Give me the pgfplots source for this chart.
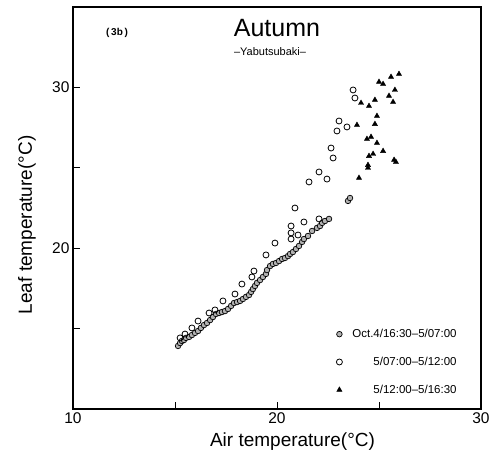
\documentclass[border=0pt]{standalone}
\usepackage{fontspec}
\setmainfont{Liberation Sans}
\usepackage{pgfplots}
\pgfplotsset{compat=1.18}

\begin{document}
\begin{tikzpicture}
\begin{axis}[
    scale only axis,
    width=408pt, height=402pt,
    xmin=10, xmax=30, ymin=10, ymax=35,
    xtick={10,20,30}, minor xtick={15,25},
    ytick={20,30}, minor ytick={15,25},
    tick align=inside, xtick pos=bottom, ytick pos=left,
    major tick length=7pt, minor tick length=7pt,
    every tick/.style={black, line width=0.9pt},
    axis line style={line width=1.1pt},
    /pgf/number format/assume math mode=true,
    tick label style={font=\fontsize{15.5}{17}\selectfont},
    xlabel={Air temperature(°C)},
    ylabel={Leaf temperature(°C)},
    every axis x label/.style={at={(rel axis cs:0.538,0)}, anchor=center, yshift=-33pt,
        font=\fontsize{19}{22}\selectfont},
    every axis y label/.style={at={(rel axis cs:0,0.458)}, rotate=90, anchor=center, yshift=46pt,
        font=\fontsize{19}{22}\selectfont},
    legend cell align=right,
    legend style={draw=none, fill=none, at={(rel axis cs:0.953,0.025)}, anchor=south east,
        font=\fontsize{11.5}{13}\selectfont, row sep=14pt,
        /tikz/every odd column/.append style={column sep=8pt}},
]
% Oct.4 16:30 - 5 07:00
\addplot[only marks, mark=*, mark size=2.8pt, mark options={fill=gray!60, draw=black, line width=0.7pt}] coordinates {
(15.15,13.92) (15.25,14.10) (15.34,14.23) (15.44,14.29) (15.54,14.42) (15.69,14.48)
(15.83,14.60) (15.98,14.73) (16.13,14.85) (16.27,15.04) (16.42,15.22) (16.57,15.35)
(16.72,15.53) (16.86,15.72) (17.01,15.91) (17.16,15.97) (17.30,16.03) (17.45,16.09)
(17.60,16.22) (17.75,16.41) (17.89,16.59) (18.04,16.65) (18.19,16.72) (18.33,16.84)
(18.48,16.97) (18.63,17.09) (18.73,17.28) (18.82,17.46) (18.92,17.65) (19.02,17.84)
(19.17,18.02) (19.31,18.21) (19.46,18.40) (19.51,18.64) (19.66,18.89) (19.80,19.02)
(19.95,19.08) (20.10,19.20) (20.25,19.33) (20.39,19.39) (20.54,19.51) (20.64,19.64)
(20.78,19.76) (20.93,19.95) (21.08,20.14) (21.23,20.39) (21.32,20.57) (21.52,20.76)
(21.72,21.07) (21.96,21.26) (22.11,21.38) (22.21,21.57) (22.35,21.69) (22.55,21.82)
(23.48,22.94) (23.58,23.12)
};
\addlegendentry{Oct.4/16:30--5/07:00}
% 5 07:00 - 12:00
\addplot[only marks, mark=o, mark size=3pt, mark options={fill=white, draw=black, line width=0.8pt}] coordinates {
(15.25,14.42) (15.49,14.66) (15.83,15.04) (16.13,15.47) (16.67,15.97) (16.96,16.16)
(17.35,16.72) (17.94,17.15) (18.28,17.77) (18.77,18.21) (18.87,18.58) (19.46,19.58)
(19.90,20.32) (20.69,20.57) (20.69,20.95) (20.69,21.38) (21.03,20.82) (20.88,22.50)
(21.32,21.63) (22.06,21.82) (21.57,24.12) (22.06,24.74) (22.45,24.30) (22.65,26.23)
(22.75,25.61) (22.94,27.29) (23.04,27.91) (23.43,27.54) (23.73,29.84) (23.82,29.34)
};
\addlegendentry{5/07:00--5/12:00}
% 5 12:00 - 16:30
\addplot[only marks, mark=triangle*, mark size=3pt, mark options={fill=black, draw=black}] coordinates {
(25.98,30.83) (25.59,30.65) (25.00,30.34) (25.20,30.21) (25.78,29.84) (25.49,29.47)
(25.69,29.09) (24.80,29.22) (24.51,28.84) (24.12,29.03) (24.90,28.22) (24.80,27.72)
(23.92,27.66) (24.41,26.79) (24.61,26.92) (24.90,26.54) (25.20,26.04) (24.51,25.73)
(24.71,25.86) (24.46,25.17) (24.46,24.99) (25.74,25.49) (25.83,25.36) (24.02,24.37)
};
\addlegendentry{5/12:00--5/16:30}
\node[font=\fontsize{25}{28}\selectfont] at (rel axis cs:0.5,0.948) {Autumn};
\node[font=\fontsize{11}{13}\selectfont] at (rel axis cs:0.483,0.888) {--Yabutsubaki--};
\node[font=\bfseries\fontsize{10}{12}\selectfont] at (rel axis cs:0.108,0.935) {(\,3b\,)};
\end{axis}
\pgfresetboundingbox
\path ([shift={(-73pt,-52pt)}]current axis.south west) rectangle ([shift={(12pt,7pt)}]current axis.north east);
\end{tikzpicture}
\end{document}
